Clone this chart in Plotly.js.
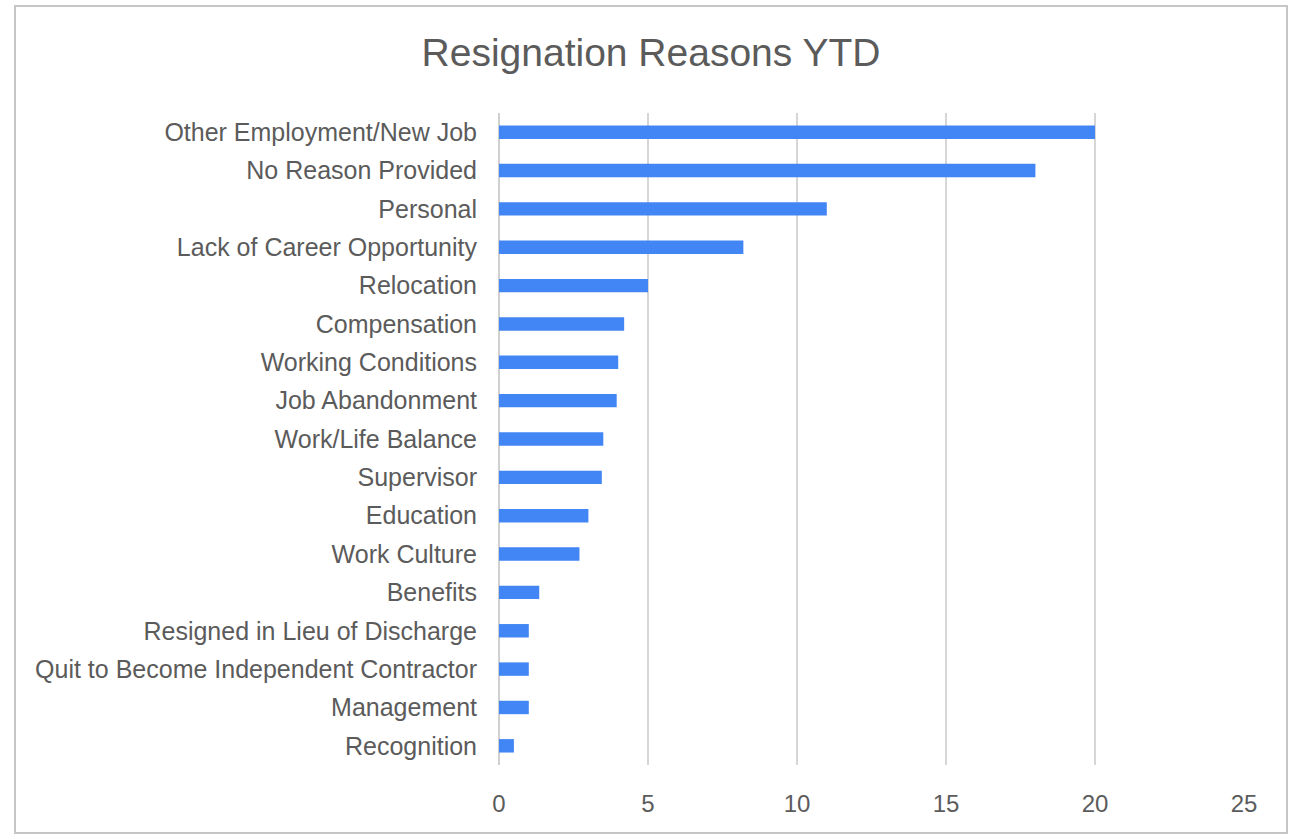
<!DOCTYPE html>
<html>
<head>
<meta charset="utf-8">
<script src="https://cdn.plot.ly/plotly-3.0.1.min.js"></script>
<style>
  html, body { margin: 0; padding: 0; background: #ffffff; }
  #wrap { position: relative; width: 1294px; height: 834px; }
  #chart { position: absolute; left: 0; top: 0; width: 1294px; height: 834px; }
  #frame { position: absolute; left: 14px; top: 5px; width: 1270px; height: 825px;
           border: 2px solid #c6c6c6; pointer-events: none; }
</style>
</head>
<body>
<div id="wrap">
  <div id="chart"></div>
  <div id="frame"></div>
</div>
<script>
const categories = [
  "Other Employment/New Job",
  "No Reason Provided",
  "Personal",
  "Lack of Career Opportunity",
  "Relocation",
  "Compensation",
  "Working Conditions",
  "Job Abandonment",
  "Work/Life Balance",
  "Supervisor",
  "Education",
  "Work Culture",
  "Benefits",
  "Resigned in Lieu of Discharge",
  "Quit to Become Independent Contractor",
  "Management",
  "Recognition"
];
const values = [20, 18, 11, 8.2, 5, 4.2, 4, 3.95, 3.5, 3.45, 3, 2.7, 1.35, 1, 1, 1, 0.5];
const xTicks = [0, 5, 10, 15, 20, 25];
const chartTitle = "Resignation Reasons YTD";

const textColor = "#5b5b5b";
const fontFamily = "'Liberation Sans', Arial, Helvetica, sans-serif";

const trace = {
  type: "bar",
  orientation: "h",
  x: values,
  y: categories,
  marker: { color: "#4285F4" },
  hoverinfo: "x+y"
};

const layout = {
  width: 1294,
  height: 834,
  margin: { l: 499, r: 50, t: 113, b: 69 },
  paper_bgcolor: "#ffffff",
  plot_bgcolor: "#ffffff",
  showlegend: false,
  bargap: 0.65,
  font: { family: fontFamily, color: textColor },
  title: {
    text: chartTitle,
    font: { size: 39, color: textColor, family: fontFamily },
    x: 651 / 1294,
    xanchor: "center",
    xref: "container",
    y: 1 - 52 / 834,
    yanchor: "middle",
    yref: "container"
  },
  xaxis: {
    range: [0, 25],
    tickvals: xTicks,
    ticktext: xTicks.map(String),
    showgrid: true,
    gridcolor: "#d6d6d6",
    gridwidth: 1.5,
    zeroline: true,
    zerolinecolor: "#d0d0d0",
    zerolinewidth: 1.5,
    showline: false,
    ticks: "",
    ticklabelstandoff: 22,
    tickfont: { size: 24, color: textColor, family: fontFamily },
    fixedrange: true
  },
  yaxis: {
    autorange: "reversed",
    type: "category",
    showgrid: false,
    zeroline: false,
    showline: false,
    ticks: "",
    ticklabelstandoff: 21,
    tickfont: { size: 25, color: textColor, family: fontFamily },
    fixedrange: true
  }
};

Plotly.newPlot("chart", [trace], layout, { displayModeBar: false, staticPlot: false });
</script>
</body>
</html>
